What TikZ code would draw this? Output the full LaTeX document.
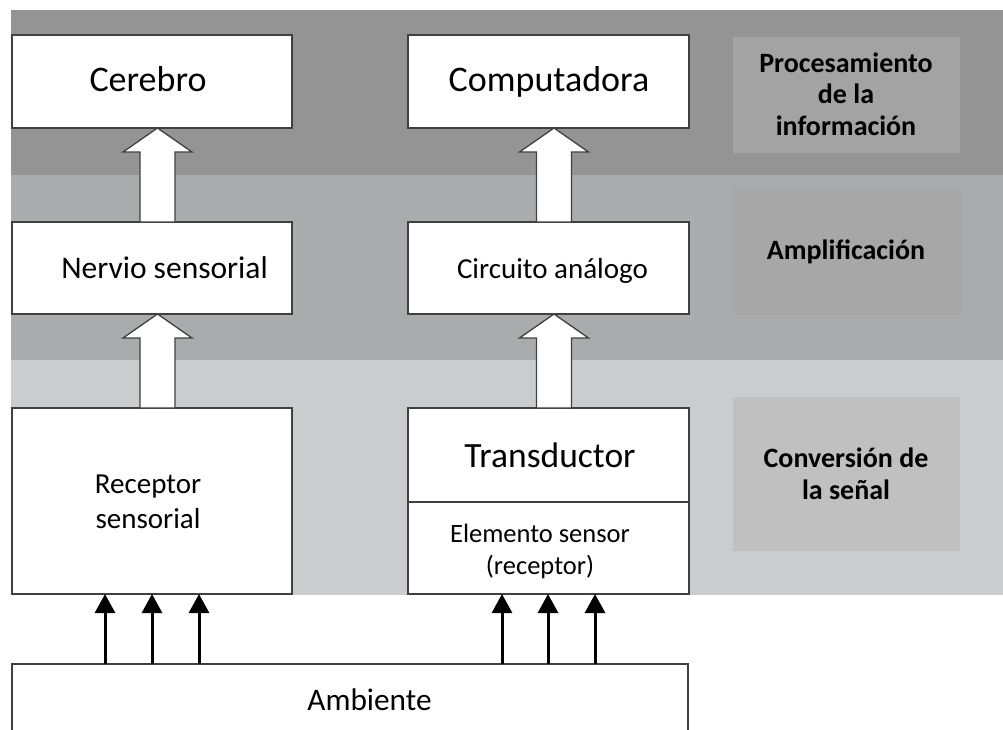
\documentclass[tikz,border=0pt]{standalone}
\usepackage{fontspec}
\setmainfont{Carlito}
\usetikzlibrary{arrows.meta,calc}

\definecolor{bandtop}{HTML}{949494}
\definecolor{bandmid}{HTML}{AAABAC}
\definecolor{bandlow}{HTML}{CBCCCE}
\definecolor{tagtop}{HTML}{A3A3A3}
\definecolor{tagmid}{HTML}{A7A7A8}
\definecolor{taglow}{HTML}{C0C0C0}
\definecolor{boxline}{HTML}{404040}

\newcommand\fsz[2]{\fontsize{#1}{#2}\selectfont}

% hollow block arrow: x position, upper node, lower node
\newcommand\hollowarrow[3]{%
  \draw[hollow] let \p0=(#1,0), \p1=(#2.south), \p2=(#3.north) in
    (\x0,\y1) -- (\x0+34.5pt,\y1-24pt) -- (\x0+17.5pt,\y1-24pt)
    -- (\x0+17.5pt,\y2) -- (\x0-17.5pt,\y2) -- (\x0-17.5pt,\y1-24pt)
    -- (\x0-34.5pt,\y1-24pt) -- cycle;}

\begin{document}
\begin{tikzpicture}[x=1pt,y=-1pt,
  stagebox/.style={draw=boxline, line width=1.3pt, fill=white,
    inner sep=0pt, outer sep=0pt},
  lbl/.style={anchor=base, inner sep=0pt, text=black},
  tag/.style={anchor=base, inner sep=0pt, text=black, align=center,
    font=\fsz{28}{31.5}\bfseries},
  hollow/.style={draw=boxline, line width=1.3pt, fill=white, line join=miter},
  feed/.style={draw=black, line width=3pt, -{Triangle[length=19pt,width=20pt]}}]
\useasboundingbox (0,0) rectangle (1003,729);

% stage bands
\fill[bandtop] (11,10) rectangle (1003,175);
\fill[bandmid] (11,175) rectangle (1003,360);
\fill[bandlow] (11,360) rectangle (1003,595);

% stage name panels
\fill[tagtop] (733,37) rectangle (960,153);
\fill[tagmid] (733,188) rectangle (962,315);
\fill[taglow] (733,397) rectangle (960,551);

% boxes, left column
\node[stagebox, minimum width=280pt, minimum height=93pt] (cerebro) at (152,81.5) {};
\node[stagebox, minimum width=280pt, minimum height=92pt] (nervio) at (152,268) {};
\node[stagebox, minimum width=280pt, minimum height=186pt] (receptor) at (152,501) {};

% boxes, right column
\node[stagebox, minimum width=281pt, minimum height=93pt] (computadora) at (548.5,81.5) {};
\node[stagebox, minimum width=281pt, minimum height=92pt] (circuito) at (548.5,268) {};
\node[stagebox, minimum width=281pt, minimum height=94pt] (transductor) at (548.5,455) {};
\node[stagebox, minimum width=281pt, minimum height=92pt] (sensor) at (548.5,548) {};

% environment box (runs off the lower edge)
\node[stagebox, minimum width=676pt, minimum height=80pt] (ambiente) at (350,704) {};

% hollow arrows between stages
\hollowarrow{157.5}{cerebro}{nervio}
\hollowarrow{157.5}{nervio}{receptor}
\hollowarrow{554}{computadora}{circuito}
\hollowarrow{554}{circuito}{transductor}

% stimulus arrows from the environment
\foreach \n/\xx in {f1/105, f2/152, f3/199, f4/502, f5/548, f6/595}
  \coordinate (\n) at (\xx,0);
\foreach \n in {f1,f2,f3}
  \draw[feed] (\n |- ambiente.north) -- (\n |- receptor.south);
\foreach \n in {f4,f5,f6}
  \draw[feed] (\n |- ambiente.north) -- (\n |- sensor.south);

% box texts (multi-line nodes sit on the baseline of their last line)
\node[lbl, font=\fsz{36}{43}] (tcerebro) at (148,91) {Cerebro};
\node[lbl, font=\fsz{36}{43}] (tcomputadora) at (549,91) {Computadora};
\node[lbl, font=\fsz{31.5}{38}] (tnervio) at (164.5,278) {Nervio sensorial};
\node[lbl, font=\fsz{29}{35}] (tcircuito) at (552.5,278) {Circuito análogo};
\node[lbl, font=\fsz{29}{35}, align=center] (treceptor) at (148,528) {Receptor\\sensorial};
\node[lbl, font=\fsz{35.5}{43}] (ttransductor) at (550,467) {Transductor};
\node[lbl, font=\fsz{26.5}{32}, align=center] (tsensor) at (540,574) {Elemento sensor\\(receptor)};
\node[lbl, font=\fsz{31.3}{38}] (tambiente) at (369.5,710) {Ambiente};

% stage names
\node[tag] (tproc) at (846,135) {Procesamiento\\de la\\información};
\node[tag] (tampl) at (846,259) {Amplificación};
\node[tag] (tconv) at (846,499) {Conversión de\\la señal};
\end{tikzpicture}
\end{document}
